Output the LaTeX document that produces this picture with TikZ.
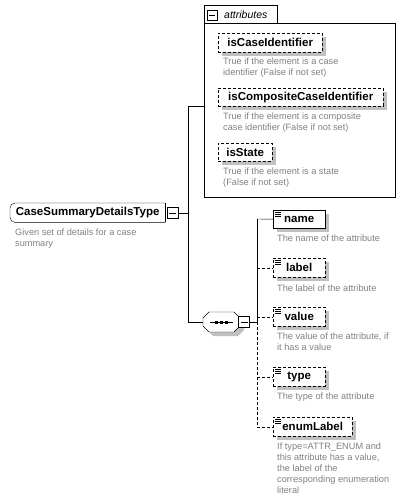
\documentclass[tikz,border=0pt]{standalone}
\usepackage{fontspec}
\setmainfont{Liberation Sans}
\usetikzlibrary{shadows}

\definecolor{notegray}{RGB}{128,128,128}
\definecolor{shadegray}{RGB}{192,192,192}

\tikzset{
  box/.style={draw, fill=white, anchor=north west, inner sep=0pt, font=\bfseries\fontsize{11.5}{13}\selectfont,
    drop shadow={shadow xshift=4pt, shadow yshift=-4pt, fill=shadegray, opacity=1}},
  optbox/.style={box, dash pattern=on 3pt off 2pt},
  optline/.style={dash pattern=on 3pt off 2pt},
  note/.style={anchor=north west, inner sep=0pt, align=left, text=notegray, font=\fontsize{9.2}{11}\selectfont},
  minus/.style={draw, fill=white, minimum size=11pt, inner sep=0pt,
    path picture={\draw ([xshift=2pt]path picture bounding box.west) -- ([xshift=-2pt]path picture bounding box.east);}}
}

% the little element icon in the top left corner of a box
\newcommand\elemicon[1]{%
  \foreach \k in {2,4,6}
    \draw[line width=0.6pt] ([shift={(2pt,-\k pt)}]#1.north west) -- ++(6pt,0);}

\begin{document}
\begin{tikzpicture}[x=1pt,y=-1pt]

\useasboundingbox (0,0) rectangle (408,502);

\def\BW{52}
\def\BH{19}

% root type
\node at (10,203) [anchor=north west, minimum width=155pt, minimum height=19pt, inner sep=0pt, font=\bfseries\fontsize{11.5}{13}\selectfont] (root) {CaseSummaryDetailsType};
\draw[rounded corners=5pt] (root.north east) -- (root.north west) -- (root.south west) -- (root.south east);
\draw (root.north east) -- (root.south east);
\node at (172.5,213) [minus] (rootm) {};
\node at (15,229) [note] (rootnote) {Given set of details for a case\\summary};

\coordinate (fork) at (188,213);
\coordinate (forktop) at (188,106);
\coordinate (forkbot) at (188,322);

% attributes
\node at (204,5) [draw, anchor=north west, minimum width=73pt, minimum height=18pt, inner sep=0pt] (tab) {};
\node at (204,23) [draw, anchor=north west, minimum width=191pt, minimum height=174pt, inner sep=0pt] (attrs) {};
\node at (212,15) [minus, minimum size=10pt] (attrm) {};
\node at (224,14.5) [anchor=west, inner sep=0pt, font=\itshape\fontsize{10.5}{12}\selectfont] (attrlbl) {attributes};

\node at (218,33) [optbox, minimum width=104pt, minimum height=19pt] (iscase) {isCaseIdentifier};
\node at (223,58) [note] (iscasenote) {True if the element is a case\\identifier (False if not set)};
\node at (218,88) [optbox, minimum width=165pt, minimum height=18pt] (iscomp) {isCompositeCaseIdentifier};
\node at (223,113) [note] (iscompnote) {True if the element is a composite\\case identifier (False if not set)};
\node at (218,143) [optbox, minimum width=54pt, minimum height=18pt] (isstate) {isState};
\node at (223,168) [note] (isstatenote) {True if the element is a state\\(False if not set)};

% sequence
\fill[shadegray] (213,316) -- (238,316) -- (244,322) -- (244,330) -- (238,336) -- (213,336) -- (207,330) -- (207,322) -- cycle;
\filldraw[fill=white] (209,312) -- (234,312) -- (240,318) -- (240,326) -- (234,332) -- (209,332) -- (203,326) -- (203,318) -- cycle;
\node at (221.5,322) [minimum width=37pt, minimum height=20pt, inner sep=0pt] (seq) {};
\draw ([xshift=7pt]seq.west) -- ([xshift=-7pt]seq.east);
\draw[line width=3pt, dash pattern=on 3pt off 2pt] ([xshift=-6.5pt]seq.center) -- ([xshift=6.5pt]seq.center);
\node at (244,322) [minus] (seqm) {};

\coordinate (branch) at (257,322);
\coordinate (branchtop) at (257,219);
\coordinate (branchbot) at (257,426.5);

% child elements
\node at (273,210) [box, minimum width=\BW pt, minimum height=18pt] (name) {name};
\node at (277,235) [note] (namenote) {The name of the attribute};
\node at (273,258) [optbox, minimum width=\BW pt, minimum height=\BH pt] (label) {label};
\node at (277,285) [note] (labelnote) {The label of the attribute};
\node at (273,307) [optbox, minimum width=\BW pt, minimum height=\BH pt] (value) {value};
\node at (277,333) [note] (valuenote) {The value of the attribute, if\\it has a value};
\node at (273,367) [optbox, minimum width=\BW pt, minimum height=\BH pt] (type) {type};
\node at (277,393) [note] (typenote) {The type of the attribute};
\node at (273,417) [optbox, minimum width=79pt, minimum height=\BH pt] (enumLabel) {enumLabel};
\node at (277,443) [note] (enumnote) {If type=ATTR\_ENUM and\\this attribute has a value,\\the label of the\\corresponding enumeration\\literal};

\foreach \e in {name,label,value,type,enumLabel}
  \elemicon{\e};

% connectors
\draw (rootm) -- (fork);
\draw (forktop) -- (forkbot);
\draw (forktop) -- (attrs.west |- forktop);
\draw (forkbot) -- (seq.west);
\draw (seqm) -- (branch);
\draw (branchtop) -- (branch);
\draw[optline] (branch) -- (branchbot);
\draw (branchtop) -- (name.west);
\foreach \e in {label,value,type,enumLabel}
  \draw[optline] (branchtop |- \e.west) -- (\e.west);

\end{tikzpicture}
\end{document}
